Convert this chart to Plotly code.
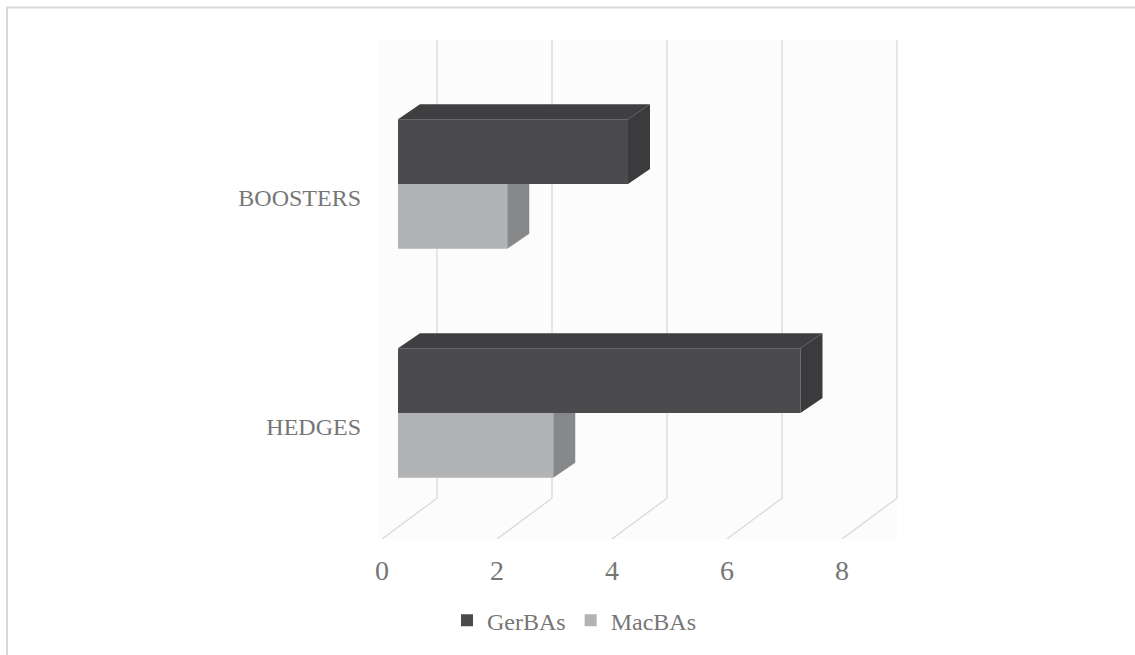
import plotly.graph_objects as go

# ---- data ----
categories = ["HEDGES", "BOOSTERS"]
gerbas = [7, 4]
macbas = [2.7, 1.9]
x_ticks = [0, 2, 4, 6, 8]
x_max = 8

# ---- figure geometry ----
W, H = 1135, 655
ML, MR, MT, MB = 372, 230, 30, 114
PW, PH = W - ML - MR, H - MT - MB
PX = 57.5                      # pixels per value unit on the horizontal axis
X0 = -10 / PX
x_range = [X0, X0 + PW / PX]
y_range = [0, PH]              # vertical axis measured in pixel-sized units

# oblique (pseudo-3D) offsets
WALL_DX, WALL_DY = 55 / PX, 41      # full depth of the floor, back wall plane
FRONT_DX, FRONT_DY = 16 / PX, 13.5  # front face of the bars
BAR_DX, BAR_DY = 22 / PX, 15        # thickness of the bars in depth
BAR_H = 65
WALL_TOP = 501
cat_y = [113, 343]

FONT = "Liberation Serif"
TXT = "#767676"
GRID = "#d9d9d9"

colors = {
    "GerBAs": {"front": "#4b4b4d", "top": "#3f3f41", "side": "#3b3b3d"},
    "MacBAs": {"front": "#b2b3b5", "top": "#9c9d9f", "side": "#87888a"},
}


def px_to_paper_x(px):
    return (px - ML) / PW


def px_to_paper_y(py):
    return (H - MB - py) / PH


fig = go.Figure()

# front faces of the bars
series = [("GerBAs", gerbas, +1), ("MacBAs", macbas, -1)]
for name, vals, side in series:
    ys = [c + FRONT_DY + side * BAR_H / 2 for c in cat_y]
    fig.add_trace(go.Bar(
        orientation="h", y=ys, x=vals, base=FRONT_DX, width=BAR_H,
        name=name, marker=dict(color=colors[name]["front"], line=dict(width=0)),
        hoverinfo="skip",
    ))

# side and top faces of the bars
for name, vals, side in series:
    for c, v in zip(cat_y, vals):
        yc = c + FRONT_DY + side * BAR_H / 2
        y0, y1 = yc - BAR_H / 2, yc + BAR_H / 2
        xr = FRONT_DX + v
        if name == "GerBAs":
            # top face
            fig.add_trace(go.Scatter(
                x=[FRONT_DX, xr, xr + BAR_DX, FRONT_DX + BAR_DX, FRONT_DX],
                y=[y1, y1, y1 + BAR_DY, y1 + BAR_DY, y1],
                fill="toself", fillcolor=colors[name]["top"], mode="lines",
                line=dict(width=0), showlegend=False, hoverinfo="skip"))
            # right face
            fig.add_trace(go.Scatter(
                x=[xr, xr + BAR_DX, xr + BAR_DX, xr, xr],
                y=[y0, y0 + BAR_DY, y1 + BAR_DY, y1, y0],
                fill="toself", fillcolor=colors[name]["side"], mode="lines",
                line=dict(width=0), showlegend=False, hoverinfo="skip"))
        else:
            # right face, upper part hidden behind the bar above
            fig.add_trace(go.Scatter(
                x=[xr, xr + BAR_DX, xr + BAR_DX, xr, xr],
                y=[y0, y0 + BAR_DY, y1, y1, y0],
                fill="toself", fillcolor=colors[name]["side"], mode="lines",
                line=dict(width=0), showlegend=False, hoverinfo="skip"))

shapes = []
# walls / floor backdrop
shapes.append(dict(
    type="rect", xref="x", yref="y", layer="below",
    x0=-4 / PX, y0=-2, x1=x_max + WALL_DX, y1=WALL_TOP,
    fillcolor="#fcfcfc", line=dict(width=0)))
# gridlines: floor diagonal + back wall vertical
for t in x_ticks:
    shapes.append(dict(
        type="path", xref="x", yref="y", layer="below",
        path=f"M {t},0 L {t + WALL_DX},{WALL_DY} L {t + WALL_DX},{WALL_TOP}",
        line=dict(color=GRID, width=1.3)))
# outer chart border
shapes.append(dict(
    type="path", xref="paper", yref="paper", layer="above",
    path=(f"M {px_to_paper_x(7)},{px_to_paper_y(665)} "
          f"L {px_to_paper_x(7)},{px_to_paper_y(7.5)} "
          f"L {px_to_paper_x(1145)},{px_to_paper_y(7.5)}"),
    line=dict(color="#d9d9d9", width=2)))

fig.update_layout(
    width=W, height=H,
    margin=dict(l=ML, r=MR, t=MT, b=MB),
    paper_bgcolor="white", plot_bgcolor="rgba(0,0,0,0)",
    barmode="overlay",
    shapes=shapes,
    font=dict(family=FONT, color=TXT, size=24),
    showlegend=True,
    legend=dict(
        orientation="h", x=px_to_paper_x(574), xanchor="center",
        y=px_to_paper_y(623), yanchor="middle",
        font=dict(family=FONT, size=24, color=TXT),
        traceorder="normal", itemwidth=30,
    ),
    xaxis=dict(
        range=x_range, tickvals=x_ticks, ticktext=[str(t) for t in x_ticks],
        showgrid=False, zeroline=False, showline=False, ticks="",
        tickfont=dict(family=FONT, size=28, color=TXT),
        ticklabelstandoff=12, fixedrange=True,
    ),
    yaxis=dict(
        range=y_range, tickvals=cat_y, ticktext=categories,
        showgrid=False, zeroline=False, showline=False, ticks="",
        tickfont=dict(family=FONT, size=24, color=TXT),
        ticklabelstandoff=10, fixedrange=True,
    ),
)

fig.write_html("out.html")
